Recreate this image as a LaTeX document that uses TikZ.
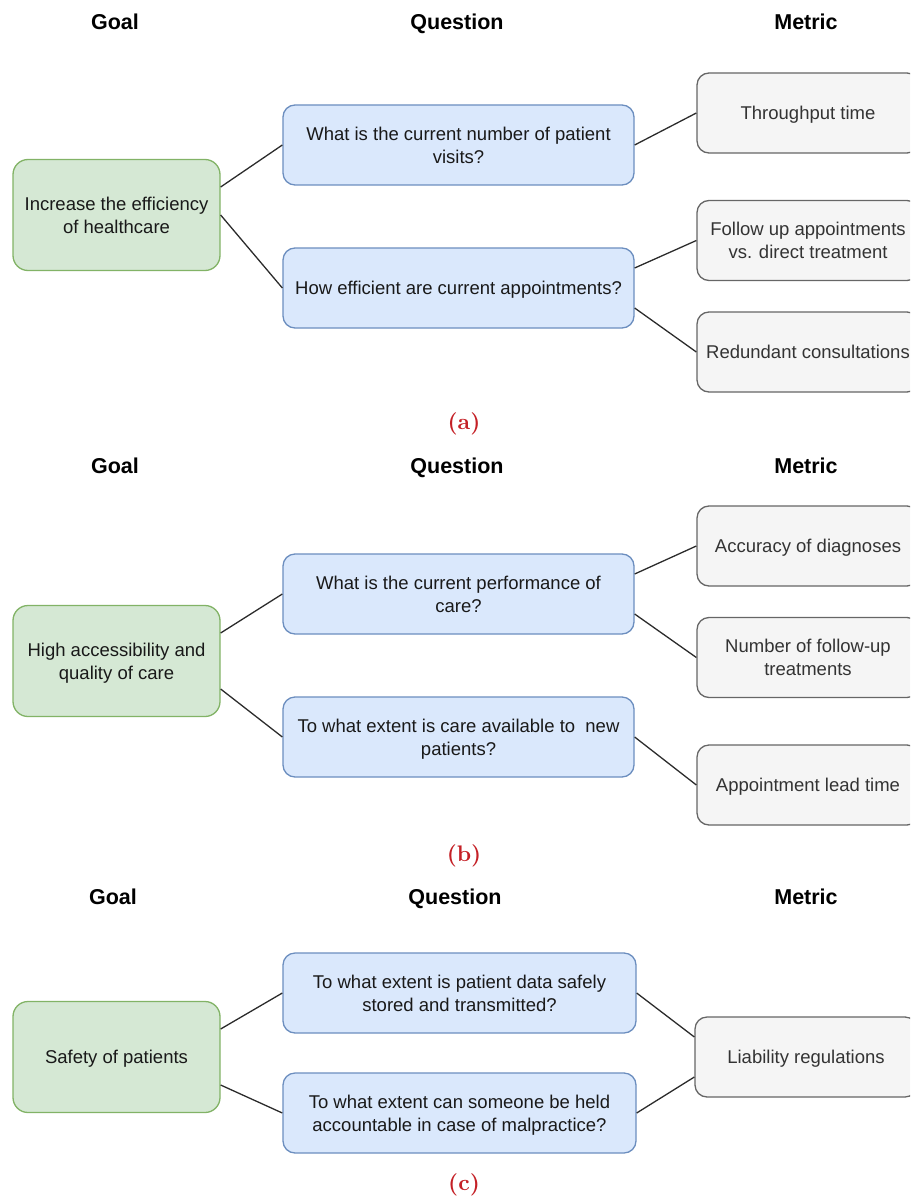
\documentclass[tikz,border=0pt]{standalone}
\usepackage{fontspec}
\newfontfamily\diagfont{Liberation Sans}
\newfontfamily\capfont{lmroman10-bold.otf}
\usetikzlibrary{calc}
\definecolor{goalfill}{HTML}{D5E8D4}
\definecolor{goalline}{HTML}{82B366}
\definecolor{qfill}{HTML}{DAE8FC}
\definecolor{qline}{HTML}{6C8EBF}
\definecolor{mfill}{HTML}{F5F5F5}
\definecolor{mline}{HTML}{666666}
\definecolor{mtext}{HTML}{333333}
\definecolor{captred}{RGB}{196,32,38}
\definecolor{linkcol}{HTML}{2B2B2B}
\tikzset{
  boxbase/.style={draw, line width=1.3pt, align=center, inner sep=0pt, text depth=0pt,
    font=\diagfont\fontsize{18.5}{23}\selectfont, text=black!90},
  goalbox/.style={boxbase, fill=goalfill, draw=goalline, rounded corners=15pt,
    minimum width=207pt, minimum height=111pt},
  qbox/.style={boxbase, fill=qfill, draw=qline, rounded corners=12pt,
    minimum width=351pt, minimum height=80pt},
  mbox/.style={boxbase, fill=mfill, draw=mline, text=mtext, rounded corners=12pt,
    minimum width=222pt, minimum height=80pt},
  header/.style={font=\diagfont\bfseries\fontsize{21.5}{25}\selectfont, text=black,
    inner sep=0pt, text height=15.5pt, text depth=4.5pt},
  subcap/.style={font=\capfont\fontsize{22.5}{26}\selectfont, text=captred, inner sep=0pt},
  link/.style={draw=linkcol, line width=1.3pt}
}
\begin{document}
\begin{tikzpicture}[x=1pt,y=-1pt]
\useasboundingbox (0,0) rectangle (910,1198);
\clip (0,0) rectangle (910,1198);

% ---------- (a) ----------
\node[header] (ha1) at (115,24.5) {Goal};
\node[header] (ha2) at (457,24.5) {Question};
\node[header] (ha3) at (806,24.5) {Metric};

\node[goalbox] (ga) at (116.5,215) {Increase the efficiency\\of healthcare};
\node[qbox] (qa1) at (458.5,145) {What is the current number of patient\\visits?};
\node[qbox] (qa2) at (458.5,288) {How efficient are current appointments?};
\node[mbox] (ma1) at (808,113) {Throughput time};
\node[mbox] (ma2) at (808,240.5) {Follow up appointments\\vs. direct treatment};
\node[mbox] (ma3) at (808,352) {Redundant consultations};

\draw[link] ([yshift=28pt]ga.east) -- (qa1.west);
\draw[link] (ga.east) -- (qa2.west);
\draw[link] (qa1.east) -- (ma1.west);
\draw[link] ([yshift=20pt]qa2.east) -- (ma2.west);
\draw[link] ([yshift=-20pt]qa2.east) -- (ma3.west);

\node[subcap] (ca) at (464,424) {(a)};

% ---------- (b) ----------
\node[header] (hb1) at (115,467.5) {Goal};
\node[header] (hb2) at (457,467.5) {Question};
\node[header] (hb3) at (806,467.5) {Metric};

\node[goalbox] (gb) at (116.5,661) {High accessibility and\\quality of care};
\node[qbox] (qb1) at (458.5,594) {What is the current performance of\\care?};
\node[qbox] (qb2) at (458.5,737) {To what extent is care available to\ \ new\\patients?};
\node[mbox] (mb1) at (808,546) {Accuracy of diagnoses};
\node[mbox] (mb2) at (808,657.5) {Number of follow-up\\treatments};
\node[mbox] (mb3) at (808,785) {Appointment lead time};

\draw[link] ([yshift=28pt]gb.east) -- (qb1.west);
\draw[link] ([yshift=-28pt]gb.east) -- (qb2.west);
\draw[link] ([yshift=20pt]qb1.east) -- (mb1.west);
\draw[link] ([yshift=-20pt]qb1.east) -- (mb2.west);
\draw[link] (qb2.east) -- (mb3.west);

\node[subcap] (cb) at (464,856) {(b)};

% ---------- (c) ----------
\node[header] (hc1) at (113,899) {Goal};
\node[header] (hc2) at (455,899) {Question};
\node[header] (hc3) at (806,899) {Metric};

\node[goalbox] (gc) at (116.5,1057) {Safety of patients};
\node[qbox, minimum width=353pt] (qc1) at (459.5,993) {To what extent is patient data safely\\stored and transmitted?};
\node[qbox, minimum width=353pt] (qc2) at (459.5,1113) {To what extent can someone be held\\accountable in case of malpractice?};
\node[mbox] (mc) at (806,1057) {Liability regulations};

\draw[link] ([yshift=28pt]gc.east) -- (qc1.west);
\draw[link] ([yshift=-28pt]gc.east) -- (qc2.west);
\draw[link] (qc1.east) -- ([yshift=20pt]mc.west);
\draw[link] (qc2.east) -- ([yshift=-20pt]mc.west);

\node[subcap] (cc) at (464,1185) {(c)};
\end{tikzpicture}
\end{document}
